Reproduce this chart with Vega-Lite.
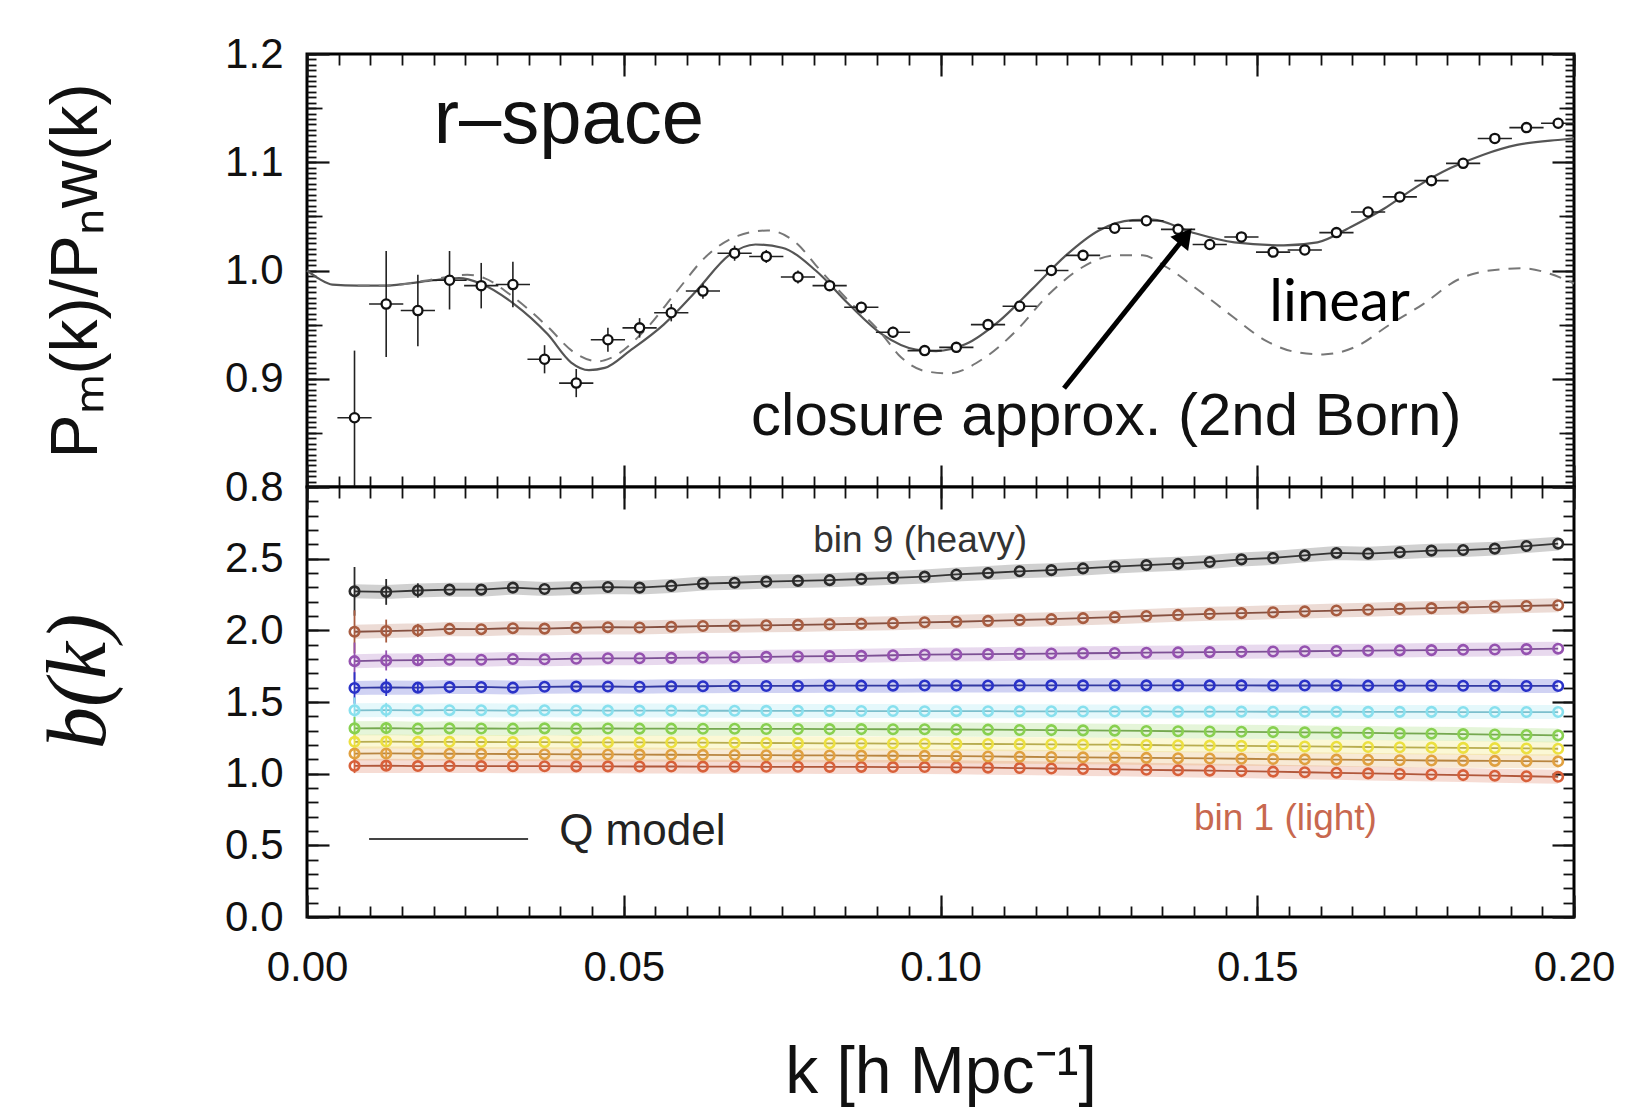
{
"$schema": "https://vega.github.io/schema/vega-lite/v6.json",
"background": "white",
"padding": {"left": 36, "top": 31, "right": 5, "bottom": 5},
"bounds": "flush",
"spacing": 0,
"config": {
  "view": {"stroke": "#000", "strokeWidth": 3, "fill": "white"},
  "axis": {"domain": false, "grid": false, "tickColor": "#111", "tickWidth": 1.8, "labelFont": "Liberation Sans", "labelFontSize": 42, "labelColor": "#111", "titleFont": "Liberation Sans", "titleColor": "#111", "titleFontWeight": "normal", "labelFlush": false, "labelOverlap": false},
  "text": {"font": "Liberation Sans"}
},
"datasets": {
  "pts": [
    {"k":0.0075,"v":0.864,"lo":0.800,"hi":0.926,"k0":0.0048,"k1":0.0102},
    {"k":0.0125,"v":0.969,"lo":0.920,"hi":1.018,"k0":0.0098,"k1":0.0152},
    {"k":0.0175,"v":0.963,"lo":0.930,"hi":0.996,"k0":0.0148,"k1":0.0202},
    {"k":0.0225,"v":0.991,"lo":0.964,"hi":1.018,"k0":0.0198,"k1":0.0252},
    {"k":0.0275,"v":0.986,"lo":0.965,"hi":1.007,"k0":0.0248,"k1":0.0302},
    {"k":0.0325,"v":0.987,"lo":0.966,"hi":1.008,"k0":0.0298,"k1":0.0352},
    {"k":0.0375,"v":0.918,"lo":0.905,"hi":0.931,"k0":0.0348,"k1":0.0402},
    {"k":0.0425,"v":0.896,"lo":0.883,"hi":0.909,"k0":0.0398,"k1":0.0452},
    {"k":0.0475,"v":0.936,"lo":0.925,"hi":0.947,"k0":0.0448,"k1":0.0502},
    {"k":0.0525,"v":0.947,"lo":0.938,"hi":0.956,"k0":0.0498,"k1":0.0552},
    {"k":0.0575,"v":0.961,"lo":0.953,"hi":0.969,"k0":0.0548,"k1":0.0602},
    {"k":0.0625,"v":0.981,"lo":0.974,"hi":0.988,"k0":0.0598,"k1":0.0652},
    {"k":0.0675,"v":1.016,"lo":1.009,"hi":1.023,"k0":0.0648,"k1":0.0702},
    {"k":0.0725,"v":1.013,"lo":1.007,"hi":1.019,"k0":0.0698,"k1":0.0752},
    {"k":0.0775,"v":0.994,"lo":0.988,"hi":1.000,"k0":0.0748,"k1":0.0802},
    {"k":0.0825,"v":0.986,"lo":0.981,"hi":0.991,"k0":0.0798,"k1":0.0852},
    {"k":0.0875,"v":0.966,"lo":0.961,"hi":0.971,"k0":0.0848,"k1":0.0902},
    {"k":0.0925,"v":0.943,"lo":0.938,"hi":0.948,"k0":0.0898,"k1":0.0952},
    {"k":0.0975,"v":0.926,"lo":0.921,"hi":0.931,"k0":0.0948,"k1":0.1002},
    {"k":0.1025,"v":0.929,"lo":0.924,"hi":0.934,"k0":0.0998,"k1":0.1052},
    {"k":0.1075,"v":0.950,"lo":0.946,"hi":0.954,"k0":0.1048,"k1":0.1102},
    {"k":0.1125,"v":0.967,"lo":0.963,"hi":0.971,"k0":0.1098,"k1":0.1152},
    {"k":0.1175,"v":1.000,"lo":0.996,"hi":1.004,"k0":0.1148,"k1":0.1202},
    {"k":0.1225,"v":1.014,"lo":1.010,"hi":1.018,"k0":0.1198,"k1":0.1252},
    {"k":0.1275,"v":1.039,"lo":1.035,"hi":1.043,"k0":0.1248,"k1":0.1302},
    {"k":0.1325,"v":1.046,"lo":1.042,"hi":1.050,"k0":0.1298,"k1":0.1352},
    {"k":0.1375,"v":1.038,"lo":1.034,"hi":1.042,"k0":0.1348,"k1":0.1402},
    {"k":0.1425,"v":1.024,"lo":1.020,"hi":1.028,"k0":0.1398,"k1":0.1452},
    {"k":0.1475,"v":1.031,"lo":1.027,"hi":1.035,"k0":0.1448,"k1":0.1502},
    {"k":0.1525,"v":1.017,"lo":1.013,"hi":1.021,"k0":0.1498,"k1":0.1552},
    {"k":0.1575,"v":1.019,"lo":1.015,"hi":1.023,"k0":0.1548,"k1":0.1602},
    {"k":0.1625,"v":1.035,"lo":1.031,"hi":1.039,"k0":0.1598,"k1":0.1652},
    {"k":0.1675,"v":1.054,"lo":1.050,"hi":1.058,"k0":0.1648,"k1":0.1702},
    {"k":0.1725,"v":1.068,"lo":1.064,"hi":1.072,"k0":0.1698,"k1":0.1752},
    {"k":0.1775,"v":1.083,"lo":1.079,"hi":1.087,"k0":0.1748,"k1":0.1802},
    {"k":0.1825,"v":1.099,"lo":1.095,"hi":1.103,"k0":0.1798,"k1":0.1852},
    {"k":0.1875,"v":1.122,"lo":1.118,"hi":1.126,"k0":0.1848,"k1":0.1902},
    {"k":0.1925,"v":1.132,"lo":1.128,"hi":1.136,"k0":0.1898,"k1":0.1952},
    {"k":0.1975,"v":1.136,"lo":1.132,"hi":1.140,"k0":0.1948,"k1":0.2000}
  ],
  "closure": [
    {"k":0,"v":1.000},{"k":0.002,"v":0.992},{"k":0.004,"v":0.987},{"k":0.008,"v":0.986},
    {"k":0.012,"v":0.986},{"k":0.016,"v":0.988},{"k":0.020,"v":0.991},{"k":0.024,"v":0.993},
    {"k":0.0274,"v":0.988},{"k":0.0327,"v":0.969},{"k":0.038,"v":0.941},{"k":0.0417,"v":0.915},
    {"k":0.0445,"v":0.908},{"k":0.047,"v":0.910},{"k":0.051,"v":0.926},{"k":0.0563,"v":0.950},
    {"k":0.0616,"v":0.982},{"k":0.0666,"v":1.014},{"k":0.0708,"v":1.024},{"k":0.075,"v":1.021},
    {"k":0.0803,"v":1.000},{"k":0.0855,"v":0.969},{"k":0.0908,"v":0.941},{"k":0.0961,"v":0.927},
    {"k":0.0993,"v":0.9256},{"k":0.104,"v":0.932},{"k":0.1093,"v":0.9535},{"k":0.1145,"v":0.983},
    {"k":0.1198,"v":1.014},{"k":0.125,"v":1.037},{"k":0.1303,"v":1.0465},{"k":0.1335,"v":1.047},
    {"k":0.1395,"v":1.0356},{"k":0.1464,"v":1.026},{"k":0.1542,"v":1.0233},{"k":0.1595,"v":1.026},
    {"k":0.1647,"v":1.040},{"k":0.170,"v":1.057},{"k":0.1752,"v":1.0775},{"k":0.1805,"v":1.0946},
    {"k":0.1857,"v":1.107},{"k":0.191,"v":1.116},{"k":0.1983,"v":1.121},{"k":0.200,"v":1.122}
  ],
  "linear": [
    {"k":0.008,"v":0.986},{"k":0.012,"v":0.986},{"k":0.016,"v":0.988},{"k":0.020,"v":0.992},
    {"k":0.0253,"v":0.996},{"k":0.028,"v":0.993},{"k":0.032,"v":0.978},{"k":0.038,"v":0.948},
    {"k":0.042,"v":0.925},{"k":0.046,"v":0.916},{"k":0.0479,"v":0.919},{"k":0.0532,"v":0.944},
    {"k":0.0584,"v":0.981},{"k":0.063,"v":1.013},{"k":0.068,"v":1.032},{"k":0.0727,"v":1.037},
    {"k":0.0775,"v":1.024},{"k":0.0803,"v":1.005},{"k":0.0855,"v":0.972},{"k":0.0908,"v":0.941},
    {"k":0.0934,"v":0.922},{"k":0.0976,"v":0.907},{"k":0.1013,"v":0.905},{"k":0.1066,"v":0.918},
    {"k":0.1119,"v":0.944},{"k":0.1171,"v":0.978},{"k":0.1224,"v":1.003},{"k":0.1277,"v":1.014},
    {"k":0.1319,"v":1.014},{"k":0.1357,"v":1.003},{"k":0.1409,"v":0.981},{"k":0.1462,"v":0.957},
    {"k":0.1514,"v":0.935},{"k":0.1567,"v":0.924},{"k":0.1604,"v":0.9225},{"k":0.1657,"v":0.930},
    {"k":0.1709,"v":0.950},{"k":0.1762,"v":0.969},{"k":0.1815,"v":0.991},{"k":0.1867,"v":1.000},
    {"k":0.192,"v":1.002},{"k":0.1962,"v":0.997},{"k":0.200,"v":0.988}
  ],
  "bias": [
    {"k":0.0075,"b1":1.054,"b2":1.140,"b3":1.222,"b4":1.316,"b5":1.442,"b6":1.598,"b7":1.785,"b8":1.990,"b9":2.272},
    {"k":0.0125,"b1":1.056,"b2":1.141,"b3":1.224,"b4":1.318,"b5":1.444,"b6":1.602,"b7":1.790,"b8":1.995,"b9":2.268},
    {"k":0.0175,"b1":1.053,"b2":1.140,"b3":1.222,"b4":1.314,"b5":1.442,"b6":1.600,"b7":1.792,"b8":2.000,"b9":2.278},
    {"k":0.0225,"b1":1.054,"b2":1.139,"b3":1.222,"b4":1.316,"b5":1.443,"b6":1.604,"b7":1.795,"b8":2.010,"b9":2.284},
    {"k":0.0275,"b1":1.053,"b2":1.138,"b3":1.221,"b4":1.315,"b5":1.442,"b6":1.605,"b7":1.795,"b8":2.008,"b9":2.284},
    {"k":0.0325,"b1":1.052,"b2":1.137,"b3":1.220,"b4":1.314,"b5":1.440,"b6":1.600,"b7":1.800,"b8":2.015,"b9":2.298},
    {"k":0.0375,"b1":1.052,"b2":1.136,"b3":1.220,"b4":1.316,"b5":1.442,"b6":1.606,"b7":1.798,"b8":2.012,"b9":2.288},
    {"k":0.0425,"b1":1.051,"b2":1.135,"b3":1.219,"b4":1.314,"b5":1.441,"b6":1.608,"b7":1.802,"b8":2.018,"b9":2.296},
    {"k":0.0475,"b1":1.051,"b2":1.134,"b3":1.218,"b4":1.315,"b5":1.440,"b6":1.608,"b7":1.805,"b8":2.022,"b9":2.302},
    {"k":0.0525,"b1":1.050,"b2":1.133,"b3":1.218,"b4":1.314,"b5":1.440,"b6":1.606,"b7":1.805,"b8":2.020,"b9":2.298},
    {"k":0.0575,"b1":1.050,"b2":1.132,"b3":1.217,"b4":1.314,"b5":1.440,"b6":1.610,"b7":1.808,"b8":2.025,"b9":2.310},
    {"k":0.0625,"b1":1.049,"b2":1.131,"b3":1.216,"b4":1.313,"b5":1.439,"b6":1.610,"b7":1.810,"b8":2.030,"b9":2.326},
    {"k":0.0675,"b1":1.049,"b2":1.130,"b3":1.215,"b4":1.313,"b5":1.439,"b6":1.612,"b7":1.812,"b8":2.032,"b9":2.332},
    {"k":0.0725,"b1":1.048,"b2":1.129,"b3":1.214,"b4":1.312,"b5":1.438,"b6":1.612,"b7":1.815,"b8":2.035,"b9":2.340},
    {"k":0.0775,"b1":1.048,"b2":1.128,"b3":1.213,"b4":1.312,"b5":1.438,"b6":1.612,"b7":1.818,"b8":2.038,"b9":2.345},
    {"k":0.0825,"b1":1.047,"b2":1.127,"b3":1.212,"b4":1.311,"b5":1.438,"b6":1.614,"b7":1.820,"b8":2.042,"b9":2.350},
    {"k":0.0875,"b1":1.047,"b2":1.126,"b3":1.211,"b4":1.311,"b5":1.437,"b6":1.614,"b7":1.822,"b8":2.046,"b9":2.358},
    {"k":0.0925,"b1":1.046,"b2":1.125,"b3":1.210,"b4":1.310,"b5":1.437,"b6":1.614,"b7":1.826,"b8":2.050,"b9":2.366},
    {"k":0.0975,"b1":1.046,"b2":1.124,"b3":1.209,"b4":1.310,"b5":1.436,"b6":1.615,"b7":1.830,"b8":2.056,"b9":2.375},
    {"k":0.1025,"b1":1.044,"b2":1.122,"b3":1.208,"b4":1.308,"b5":1.436,"b6":1.615,"b7":1.832,"b8":2.060,"b9":2.390},
    {"k":0.1075,"b1":1.042,"b2":1.120,"b3":1.207,"b4":1.307,"b5":1.436,"b6":1.615,"b7":1.834,"b8":2.066,"b9":2.400},
    {"k":0.1125,"b1":1.039,"b2":1.118,"b3":1.206,"b4":1.305,"b5":1.435,"b6":1.616,"b7":1.836,"b8":2.072,"b9":2.412},
    {"k":0.1175,"b1":1.036,"b2":1.116,"b3":1.205,"b4":1.304,"b5":1.435,"b6":1.616,"b7":1.838,"b8":2.078,"b9":2.420},
    {"k":0.1225,"b1":1.033,"b2":1.114,"b3":1.203,"b4":1.302,"b5":1.434,"b6":1.616,"b7":1.840,"b8":2.085,"b9":2.432},
    {"k":0.1275,"b1":1.030,"b2":1.112,"b3":1.202,"b4":1.300,"b5":1.434,"b6":1.616,"b7":1.842,"b8":2.092,"b9":2.445},
    {"k":0.1325,"b1":1.027,"b2":1.110,"b3":1.200,"b4":1.298,"b5":1.434,"b6":1.616,"b7":1.844,"b8":2.100,"b9":2.455},
    {"k":0.1375,"b1":1.024,"b2":1.108,"b3":1.198,"b4":1.296,"b5":1.433,"b6":1.616,"b7":1.846,"b8":2.108,"b9":2.465},
    {"k":0.1425,"b1":1.021,"b2":1.106,"b3":1.196,"b4":1.294,"b5":1.433,"b6":1.616,"b7":1.848,"b8":2.115,"b9":2.477},
    {"k":0.1475,"b1":1.018,"b2":1.104,"b3":1.194,"b4":1.292,"b5":1.433,"b6":1.616,"b7":1.850,"b8":2.120,"b9":2.495},
    {"k":0.1525,"b1":1.014,"b2":1.102,"b3":1.192,"b4":1.290,"b5":1.432,"b6":1.615,"b7":1.852,"b8":2.126,"b9":2.505},
    {"k":0.1575,"b1":1.010,"b2":1.100,"b3":1.190,"b4":1.288,"b5":1.432,"b6":1.615,"b7":1.854,"b8":2.132,"b9":2.523},
    {"k":0.1625,"b1":1.006,"b2":1.098,"b3":1.188,"b4":1.286,"b5":1.432,"b6":1.615,"b7":1.856,"b8":2.138,"b9":2.540},
    {"k":0.1675,"b1":1.002,"b2":1.096,"b3":1.186,"b4":1.284,"b5":1.431,"b6":1.614,"b7":1.858,"b8":2.144,"b9":2.535},
    {"k":0.1725,"b1":0.998,"b2":1.094,"b3":1.184,"b4":1.281,"b5":1.431,"b6":1.614,"b7":1.860,"b8":2.150,"b9":2.545},
    {"k":0.1775,"b1":0.994,"b2":1.092,"b3":1.182,"b4":1.279,"b5":1.431,"b6":1.614,"b7":1.862,"b8":2.155,"b9":2.556},
    {"k":0.1825,"b1":0.990,"b2":1.090,"b3":1.180,"b4":1.276,"b5":1.430,"b6":1.613,"b7":1.864,"b8":2.160,"b9":2.560},
    {"k":0.1875,"b1":0.986,"b2":1.089,"b3":1.178,"b4":1.273,"b5":1.430,"b6":1.613,"b7":1.866,"b8":2.165,"b9":2.570},
    {"k":0.1925,"b1":0.982,"b2":1.087,"b3":1.176,"b4":1.270,"b5":1.430,"b6":1.612,"b7":1.869,"b8":2.170,"b9":2.588},
    {"k":0.1975,"b1":0.978,"b2":1.086,"b3":1.174,"b4":1.267,"b5":1.430,"b6":1.612,"b7":1.872,"b8":2.175,"b9":2.605}
  ],
  "berr": [
    {"k":0.0075,"bin":"b9","lo":2.102,"hi":2.442},{"k":0.0075,"bin":"b8","lo":1.840,"hi":2.140},
    {"k":0.0075,"bin":"b7","lo":1.655,"hi":1.915},{"k":0.0075,"bin":"b6","lo":1.488,"hi":1.708},
    {"k":0.0075,"bin":"b5","lo":1.352,"hi":1.532},{"k":0.0075,"bin":"b4","lo":1.236,"hi":1.396},
    {"k":0.0075,"bin":"b3","lo":1.152,"hi":1.292},{"k":0.0075,"bin":"b2","lo":1.080,"hi":1.200},
    {"k":0.0075,"bin":"b1","lo":1.004,"hi":1.104},
    {"k":0.0125,"bin":"b9","lo":2.178,"hi":2.358},{"k":0.0125,"bin":"b8","lo":1.915,"hi":2.075},
    {"k":0.0125,"bin":"b7","lo":1.720,"hi":1.860},{"k":0.0125,"bin":"b6","lo":1.542,"hi":1.662},
    {"k":0.0125,"bin":"b5","lo":1.394,"hi":1.494},{"k":0.0125,"bin":"b4","lo":1.278,"hi":1.358},
    {"k":0.0125,"bin":"b3","lo":1.189,"hi":1.259},{"k":0.0125,"bin":"b2","lo":1.111,"hi":1.171},
    {"k":0.0125,"bin":"b1","lo":1.026,"hi":1.086},
    {"k":0.0175,"bin":"b9","lo":2.228,"hi":2.328},{"k":0.0175,"bin":"b8","lo":1.955,"hi":2.045},
    {"k":0.0175,"bin":"b7","lo":1.752,"hi":1.832},{"k":0.0175,"bin":"b6","lo":1.565,"hi":1.635}
  ]
},
"vconcat": [
  {
    "width": 1267, "height": 433,
    "resolve": {"axis": {"x": "independent", "y": "independent"}},
    "layer": [
      {"data": {"name": "closure"},
       "mark": {"type": "line", "color": "#555", "strokeWidth": 2.2, "interpolate": "monotone"},
       "encoding": {
         "x": {"field": "k", "type": "quantitative", "scale": {"domain": [0, 0.2], "nice": false, "zero": false},
               "axis": {"orient": "bottom", "values": [0, 0.05, 0.1, 0.15, 0.2], "labels": false, "title": null, "tickSize": -22, "tickWidth": 2.2}},
         "y": {"field": "v", "type": "quantitative", "scale": {"domain": [0.8, 1.2], "nice": false, "zero": false},
               "axis": {"orient": "left", "values": [0.8, 0.9, 1.0, 1.1, 1.2], "format": ".1f", "ticks": false, "labelPadding": 24, "title": "Pₘ(k)/Pₙw(k)", "titleFontSize": 66, "titlePadding": 114}}
       }},
      {"data": {"name": "linear"},
       "mark": {"type": "line", "color": "#777", "strokeWidth": 2, "strokeDash": [12, 9], "interpolate": "monotone"},
       "encoding": {
         "x": {"field": "k", "type": "quantitative", "axis": {"orient": "bottom", "tickCount": 40, "labels": false, "title": null, "tickSize": -11}},
         "y": {"field": "v", "type": "quantitative", "axis": {"orient": "left", "values": [0.8, 0.9, 1.0, 1.1, 1.2], "labels": false, "title": null, "tickSize": -22, "tickWidth": 2.2}}
       }},
      {"data": {"name": "pts"},
       "mark": {"type": "rule", "color": "#222", "strokeWidth": 1.6},
       "encoding": {
         "x": {"field": "k", "type": "quantitative", "axis": {"orient": "top", "values": [0, 0.05, 0.1, 0.15, 0.2], "labels": false, "title": null, "tickSize": -22, "tickWidth": 2.2}},
         "y": {"field": "lo", "type": "quantitative", "axis": {"orient": "left", "values": [0.85, 0.95, 1.05, 1.15], "labels": false, "title": null, "tickSize": -15}},
         "y2": {"field": "hi"}
       }},
      {"data": {"name": "pts"},
       "mark": {"type": "rule", "color": "#222", "strokeWidth": 1.6},
       "encoding": {
         "x": {"field": "k0", "type": "quantitative", "axis": {"orient": "top", "tickCount": 40, "labels": false, "title": null, "tickSize": -11}},
         "x2": {"field": "k1"},
         "y": {"field": "v", "type": "quantitative", "axis": {"orient": "left", "tickCount": 80, "labels": false, "title": null, "tickSize": -9}}
       }},
      {"data": {"name": "pts"},
       "mark": {"type": "point", "shape": "circle", "size": 85, "fill": "white", "stroke": "#111", "strokeWidth": 2.3, "opacity": 1, "filled": true},
       "encoding": {
         "x": {"field": "k", "type": "quantitative", "axis": null},
         "y": {"field": "v", "type": "quantitative", "axis": {"orient": "right", "values": [0.8, 0.9, 1.0, 1.1, 1.2], "labels": false, "title": null, "tickSize": -22, "tickWidth": 2.2}}
       }},
      {"data": {"values": [{"k": 0.0200, "v": 1.118, "t": "r–space"}]},
       "mark": {"type": "text", "align": "left", "baseline": "alphabetic", "fontSize": 76, "color": "#111"},
       "encoding": {
         "x": {"field": "k", "type": "quantitative", "axis": null},
         "y": {"field": "v", "type": "quantitative", "axis": {"orient": "right", "values": [0.85, 0.95, 1.05, 1.15], "labels": false, "title": null, "tickSize": -15}},
         "text": {"field": "t"}
       }},
      {"data": {"values": [{"k": 0.0701, "v": 0.848, "t": "closure approx. (2nd Born)"}]},
       "mark": {"type": "text", "align": "left", "baseline": "alphabetic", "fontSize": 60, "color": "#111"},
       "encoding": {
         "x": {"field": "k", "type": "quantitative", "axis": null},
         "y": {"field": "v", "type": "quantitative", "axis": {"orient": "right", "tickCount": 80, "labels": false, "title": null, "tickSize": -9}},
         "text": {"field": "t"}
       }},
      {"data": {"values": [{"k": 0.1519, "v": 0.9535, "t": "linear"}]},
       "mark": {"type": "text", "align": "left", "baseline": "alphabetic", "fontSize": 58, "font": "Lato", "color": "#000"},
       "encoding": {
         "x": {"field": "k", "type": "quantitative", "axis": null},
         "y": {"field": "v", "type": "quantitative", "axis": null},
         "text": {"field": "t"}
       }},
      {"data": {"values": [{"k": 0.1195, "v": 0.8912, "k2": 0.13867, "v2": 1.03163}]},
       "mark": {"type": "rule", "color": "#000", "strokeWidth": 5},
       "encoding": {
         "x": {"field": "k", "type": "quantitative", "axis": null},
         "y": {"field": "v", "type": "quantitative", "axis": null},
         "x2": {"field": "k2"},
         "y2": {"field": "v2"}
       }},
      {"data": {"values": [{"k": 0.13867, "v": 1.03163}]},
       "mark": {"type": "point", "shape": "triangle-up", "size": 520, "filled": true, "color": "#000", "opacity": 1, "angle": 39},
       "encoding": {
         "x": {"field": "k", "type": "quantitative", "axis": null},
         "y": {"field": "v", "type": "quantitative", "axis": null}
       }}
    ]
  },
  {
    "width": 1267, "height": 430,
    "resolve": {"axis": {"x": "independent", "y": "independent"}},
    "layer": [
      {"data": {"name": "bias"},
       "transform": [{"fold": ["b1", "b2", "b3", "b4", "b5", "b6", "b7", "b8", "b9"], "as": ["bin", "b"]}],
       "mark": {"type": "line", "strokeWidth": 14, "opacity": 0.22},
       "encoding": {
         "x": {"field": "k", "type": "quantitative", "scale": {"domain": [0, 0.2], "nice": false, "zero": false},
               "axis": {"orient": "bottom", "values": [0, 0.05, 0.1, 0.15, 0.2], "format": ".2f", "ticks": false, "labelPadding": 30, "title": "k [h Mpc⁻¹]", "titleFontSize": 66, "titlePadding": 52}},
         "y": {"field": "b", "type": "quantitative", "scale": {"domain": [0, 3], "nice": false, "zero": false},
               "axis": {"orient": "left", "values": [0, 0.5, 1, 1.5, 2, 2.5], "format": ".1f", "ticks": false, "labelPadding": 24, "title": "b(k)", "titleFont": "Liberation Serif", "titleFontStyle": "italic", "titleFontSize": 84, "titlePadding": 102, "titleY": 194}},
         "color": {"field": "bin", "type": "nominal", "legend": null,
                   "scale": {"domain": ["b1", "b2", "b3", "b4", "b5", "b6", "b7", "b8", "b9"], "range": ["#d8603a", "#e0a040", "#ece040", "#88d050", "#88e0ee", "#2a32c8", "#9552b0", "#a85c40", "#2a2a2a"]}}
       }},
      {"data": {"name": "bias"},
       "transform": [{"fold": ["b1", "b2", "b3", "b4", "b5", "b6", "b7", "b8", "b9"], "as": ["bin", "b"]}],
       "mark": {"type": "line", "strokeWidth": 1.8, "opacity": 0.9},
       "encoding": {
         "x": {"field": "k", "type": "quantitative", "axis": {"orient": "bottom", "values": [0, 0.05, 0.1, 0.15, 0.2], "labels": false, "title": null, "tickSize": -22, "tickWidth": 2.2}},
         "y": {"field": "b", "type": "quantitative", "axis": {"orient": "left", "values": [0, 0.5, 1, 1.5, 2, 2.5, 3], "labels": false, "title": null, "tickSize": -22, "tickWidth": 2.2}},
         "stroke": {"field": "bin", "type": "nominal", "legend": null,
                    "scale": {"domain": ["b1", "b2", "b3", "b4", "b5", "b6", "b7", "b8", "b9"], "range": ["#a8482a", "#b07a30", "#b0a440", "#68a040", "#70b8c8", "#202898", "#70408a", "#7a4030", "#222222"]}}
       }},
      {"data": {"name": "berr"},
       "mark": {"type": "rule", "strokeWidth": 1.8},
       "encoding": {
         "x": {"field": "k", "type": "quantitative", "axis": {"orient": "bottom", "tickCount": 40, "labels": false, "title": null, "tickSize": -11}},
         "y": {"field": "lo", "type": "quantitative", "axis": {"orient": "left", "tickCount": 30, "labels": false, "title": null, "tickSize": -11}},
         "y2": {"field": "hi"},
         "color": {"field": "bin", "type": "nominal", "legend": null}
       }},
      {"data": {"name": "bias"},
       "transform": [{"fold": ["b1", "b2", "b3", "b4", "b5", "b6", "b7", "b8", "b9"], "as": ["bin", "b"]}],
       "mark": {"type": "point", "shape": "circle", "size": 90, "filled": false, "strokeWidth": 2.6, "opacity": 1},
       "encoding": {
         "x": {"field": "k", "type": "quantitative", "axis": {"orient": "top", "values": [0, 0.05, 0.1, 0.15, 0.2], "labels": false, "title": null, "tickSize": -22, "tickWidth": 2.2}},
         "y": {"field": "b", "type": "quantitative", "axis": {"orient": "right", "values": [0, 0.5, 1, 1.5, 2, 2.5, 3], "labels": false, "title": null, "tickSize": -22, "tickWidth": 2.2}},
         "color": {"field": "bin", "type": "nominal", "legend": null}
       }},
      {"data": {"values": [{"k": 0.0799, "b": 2.547, "t": "bin 9 (heavy)"}]},
       "mark": {"type": "text", "align": "left", "baseline": "alphabetic", "fontSize": 37, "color": "#333"},
       "encoding": {
         "x": {"field": "k", "type": "quantitative", "axis": {"orient": "top", "tickCount": 40, "labels": false, "title": null, "tickSize": -11}},
         "y": {"field": "b", "type": "quantitative", "axis": {"orient": "right", "tickCount": 30, "labels": false, "title": null, "tickSize": -11}},
         "text": {"field": "t"}
       }},
      {"data": {"values": [{"k": 0.140, "b": 0.607, "t": "bin 1 (light)"}]},
       "mark": {"type": "text", "align": "left", "baseline": "alphabetic", "fontSize": 37, "color": "#c8684f"},
       "encoding": {
         "x": {"field": "k", "type": "quantitative", "axis": null},
         "y": {"field": "b", "type": "quantitative", "axis": null},
         "text": {"field": "t"}
       }},
      {"data": {"values": [{"k": 0.0098, "k2": 0.0349, "b": 0.544}]},
       "mark": {"type": "rule", "color": "#444", "strokeWidth": 2},
       "encoding": {
         "x": {"field": "k", "type": "quantitative", "axis": null},
         "x2": {"field": "k2"},
         "y": {"field": "b", "type": "quantitative", "axis": null}
       }},
      {"data": {"values": [{"k": 0.0398, "b": 0.502, "t": "Q model"}]},
       "mark": {"type": "text", "align": "left", "baseline": "alphabetic", "fontSize": 44, "color": "#222"},
       "encoding": {
         "x": {"field": "k", "type": "quantitative", "axis": null},
         "y": {"field": "b", "type": "quantitative", "axis": null},
         "text": {"field": "t"}
       }}
    ]
  }
]
}
